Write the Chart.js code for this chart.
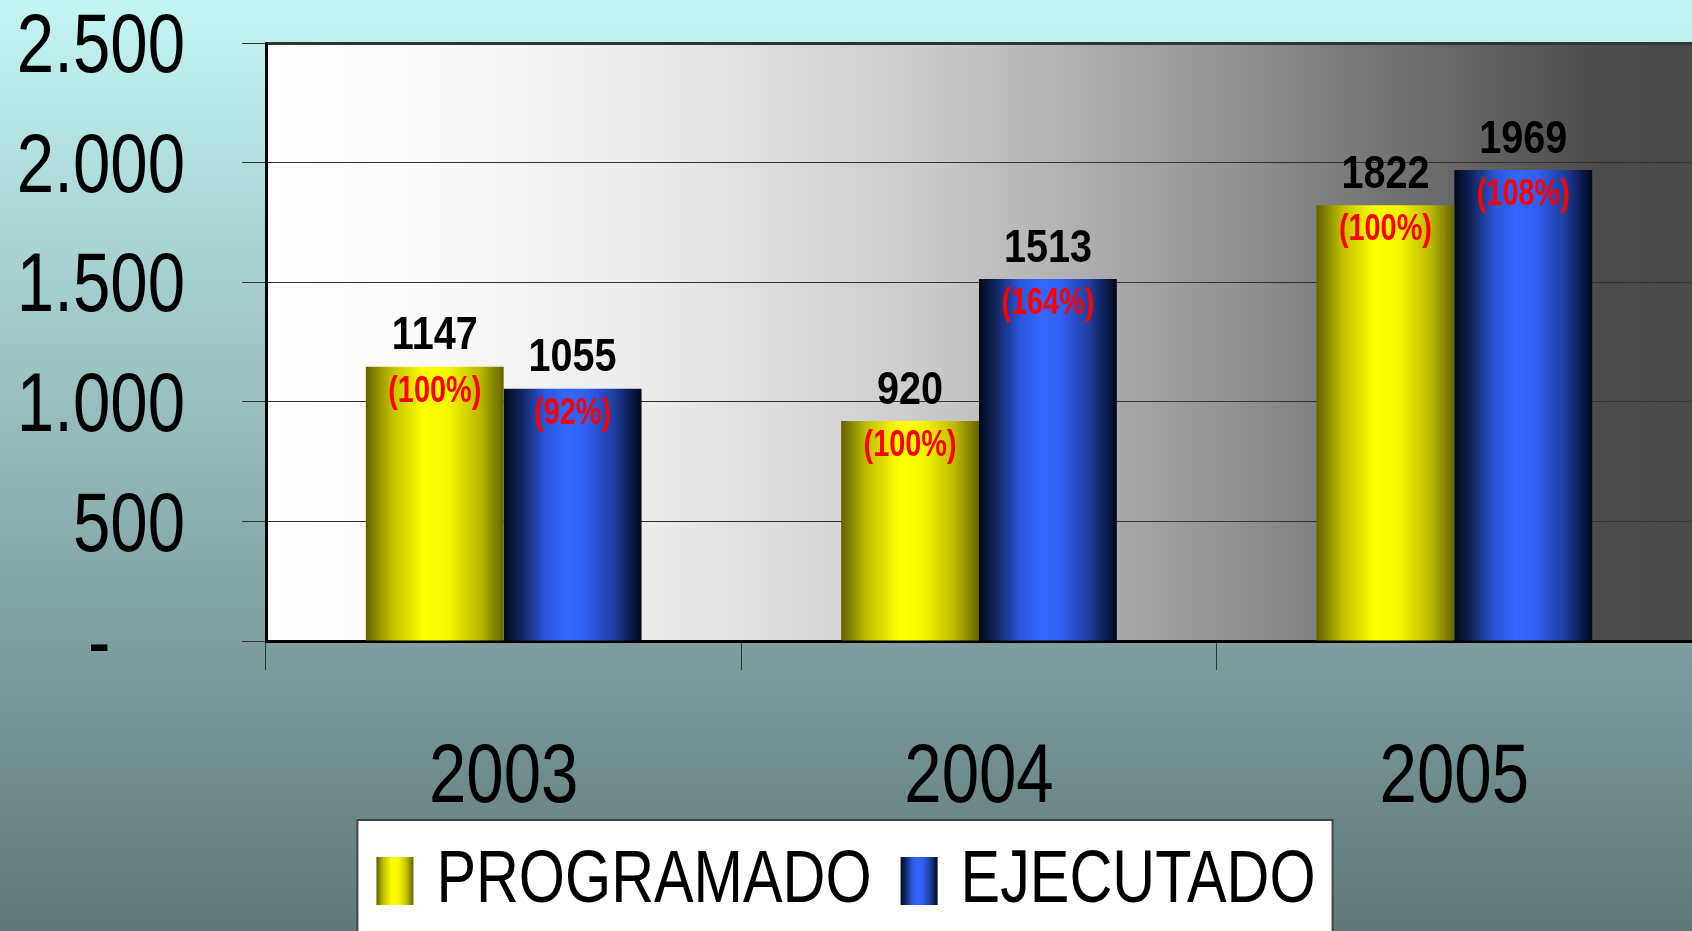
<!DOCTYPE html>
<html><head><meta charset="utf-8">
<script src="https://cdn.jsdelivr.net/npm/chart.js@4.4.1/dist/chart.umd.min.js"></script>
<style>html,body{margin:0;padding:0;overflow:hidden;background:#8fb0b0}canvas{display:block}</style>
</head><body>
<canvas id="c" width="1692" height="931" style="width:1692px;height:931px"></canvas>
<script>
// ---- data ----
const categories = ['2003', '2004', '2005'];
const seriesNames = ['PROGRAMADO', 'EJECUTADO'];
const programado = [1147, 920, 1822];
const ejecutado = [1055, 1513, 1969];
const programadoPct = ['(100%)', '(100%)', '(100%)'];
const ejecutadoPct = ['(92%)', '(164%)', '(108%)'];
const yTickLabels = ['-\u2007\u2007', '500', '1.000', '1.500', '2.000', '2.500'];

// ---- narrow text rendering (condensing the installed sans font: token SqXXxYYY = x/y scale in %) ----
(function () {
  const P = CanvasRenderingContext2D.prototype;
  const _fill = P.fillText, _measure = P.measureText;
  const sq = ctx => { const m = /Sq(\d+)x(\d+)/.exec(ctx.font); return m ? [+m[1] / 100, +m[2] / 100] : null; };
  P.fillText = function (t, x, y, mw) {
    const f = sq(this);
    if (!f) return mw === undefined ? _fill.call(this, t, x, y) : _fill.call(this, t, x, y, mw);
    this.save();
    this.translate(x, y);
    this.scale(f[0], f[1]);
    if (mw === undefined) _fill.call(this, t, 0, 0); else _fill.call(this, t, 0, 0, mw / f[0]);
    this.restore();
  };
  P.measureText = function (t) {
    const m = _measure.call(this, t);
    const f = sq(this);
    if (!f) return m;
    return {
      width: m.width * f[0],
      actualBoundingBoxAscent: m.actualBoundingBoxAscent * f[1],
      actualBoundingBoxDescent: m.actualBoundingBoxDescent * f[1],
      actualBoundingBoxLeft: m.actualBoundingBoxLeft * f[0],
      actualBoundingBoxRight: m.actualBoundingBoxRight * f[0],
      fontBoundingBoxAscent: m.fontBoundingBoxAscent * f[1],
      fontBoundingBoxDescent: m.fontBoundingBoxDescent * f[1]
    };
  };
})();

// ---- styles ----
const BASE = "'Liberation Sans', Arial, sans-serif";
const AXIS_FAMILY = "Sq80x100, " + BASE;
const LEGEND_FAMILY = "Sq129x163, " + BASE;   // 46px drawn as ~75px tall, narrow
const NUM_FAMILY = "Sq86x100, " + BASE;
const PCT_FAMILY = "Sq78x100, " + BASE;
const CAT_PCT = 0.58;
const yellowStops = [[0, '#626200'], [0.18, '#bdbd00'], [0.42, '#ffff00'], [0.6, '#f6f600'], [0.82, '#bcbc00'], [1, '#646400']];
const blueStops = [[0, '#000818'], [0.12, '#10245a'], [0.3, '#2a56dc'], [0.45, '#3366ff'], [0.6, '#305ff0'], [0.8, '#1f3e9e'], [0.93, '#0a1a48'], [1, '#000716']];
const stopsFor = [yellowStops, blueStops];

function hGrad(ctx, x0, x1, stops) {
  const g = ctx.createLinearGradient(x0, 0, x1, 0);
  stops.forEach(([o, c]) => g.addColorStop(o, c));
  return g;
}
function barBg(c) {
  const stops = stopsFor[c.datasetIndex];
  const chart = c.chart, sx = chart.scales.x;
  if (c.type !== 'data' || !sx || !chart.chartArea) return stops[2][1];
  const catW = (sx.right - sx.left) / categories.length;
  const bw = catW * CAT_PCT / 2;
  const cx = sx.getPixelForValue(c.dataIndex) + (c.datasetIndex - 0.5) * bw;
  return hGrad(chart.ctx, cx - bw / 2, cx + bw / 2, stops);
}

const bgPlugin = {
  id: 'bgPlugin',
  beforeDraw(chart) {
    const {ctx, width, height, chartArea: a} = chart;
    ctx.save();
    const vg = ctx.createLinearGradient(0, 0, 0, height);
    vg.addColorStop(0, '#c3f5f3');
    vg.addColorStop(1, '#5f7878');
    ctx.fillStyle = vg;
    ctx.fillRect(0, 0, width, height);
    const pg = ctx.createLinearGradient(a.left, 0, a.right, 0);
    [[0, '#ffffff'], [0.1, '#fbfbfb'], [0.27, '#ebebeb'], [0.45, '#cdcdcd'], [0.6, '#a8a8a8'], [0.74, '#808080'], [0.88, '#5a5a5a'], [0.94, '#4b4b4b'], [1, '#4a4a4a']]
      .forEach(([o, c]) => pg.addColorStop(o, c));
    ctx.fillStyle = pg;
    ctx.fillRect(a.left, a.top, a.right - a.left, a.bottom - a.top);
    // legend frame + gradient markers
    const lg = chart.legend;
    if (lg && lg.legendHitBoxes && lg.legendHitBoxes.length) {
      const hb = lg.legendHitBoxes;
      const l = hb[0].left - 19, r = hb[hb.length - 1].left + hb[hb.length - 1].width + 17;
      const t = hb[0].top - 37;
      ctx.fillStyle = '#ffffff';
      ctx.fillRect(l, t, r - l, height - t + 5);
      ctx.strokeStyle = '#444';
      ctx.lineWidth = 2;
      ctx.strokeRect(l, t, r - l, height - t + 5);
      const bw = lg.options.labels.boxWidth;
      lg.legendItems.forEach((it, i) => {
        it.fillStyle = hGrad(ctx, hb[i].left, hb[i].left + bw, stopsFor[i]);
        it.lineWidth = 0;
        it.strokeStyle = 'rgba(0,0,0,0)';
      });
    }
    ctx.restore();
  }
};

const labelPlugin = {
  id: 'labelPlugin',
  afterDatasetsDraw(chart) {
    const ctx = chart.ctx;
    const values = [programado, ejecutado];
    const pcts = [programadoPct, ejecutadoPct];
    ctx.save();
    ctx.textAlign = 'center';
    ctx.textBaseline = 'middle';
    chart.data.datasets.forEach((ds, di) => {
      chart.getDatasetMeta(di).data.forEach((bar, i) => {
        ctx.fillStyle = '#000000';
        ctx.font = 'bold 46px ' + NUM_FAMILY;
        ctx.fillText(String(values[di][i]), bar.x, bar.y - 30);
        ctx.fillStyle = '#ff0000';
        ctx.font = 'bold 37px ' + PCT_FAMILY;
        ctx.fillText(pcts[di][i], bar.x, bar.y + 25);
      });
    });
    ctx.restore();
  }
};

new Chart(document.getElementById('c'), {
  type: 'bar',
  data: {
    labels: categories,
    datasets: [
      {label: seriesNames[0], data: programado, backgroundColor: barBg, borderWidth: 0},
      {label: seriesNames[1], data: ejecutado, backgroundColor: barBg, borderWidth: 0}
    ]
  },
  options: {
    responsive: false,
    animation: false,
    devicePixelRatio: 1,
    layout: {padding: {top: 43, left: 0, right: 0, bottom: 16}},
    datasets: {bar: {categoryPercentage: CAT_PCT, barPercentage: 1.0}},
    scales: {
      x: {
        grid: {display: true, drawOnChartArea: false, offset: true, tickLength: 29, color: '#333', lineWidth: 1, tickColor: '#333', tickWidth: 1},
        border: {display: true, color: '#000', width: 3},
        ticks: {font: {family: AXIS_FAMILY, size: 84}, color: '#000', padding: 58, maxRotation: 0},
        afterFit: s => { s.height = 187; s.paddingLeft = 0; s.paddingRight = 0; }
      },
      y: {
        min: 0, max: 2500,
        grid: {color: '#333', lineWidth: c => (c.tick && c.tick.value === 2500 ? 3 : 1), tickLength: 24, tickColor: '#333', tickWidth: 1},
        border: {display: true, color: '#000', width: 3},
        ticks: {stepSize: 500, font: {family: AXIS_FAMILY, size: 84}, color: '#000', padding: 57, labelOffset: 6, callback: (v, i) => yTickLabels[i]},
        afterFit: s => { s.width = 266; s.paddingTop = 0; s.paddingBottom = 0; }
      }
    },
    plugins: {
      legend: {
        position: 'bottom',
        labels: {boxWidth: 37, boxHeight: 48, padding: 29, color: '#000', font: {family: LEGEND_FAMILY, size: 46}}
      },
      tooltip: {enabled: false}
    }
  },
  plugins: [bgPlugin, labelPlugin]
});
</script>
</body></html>
